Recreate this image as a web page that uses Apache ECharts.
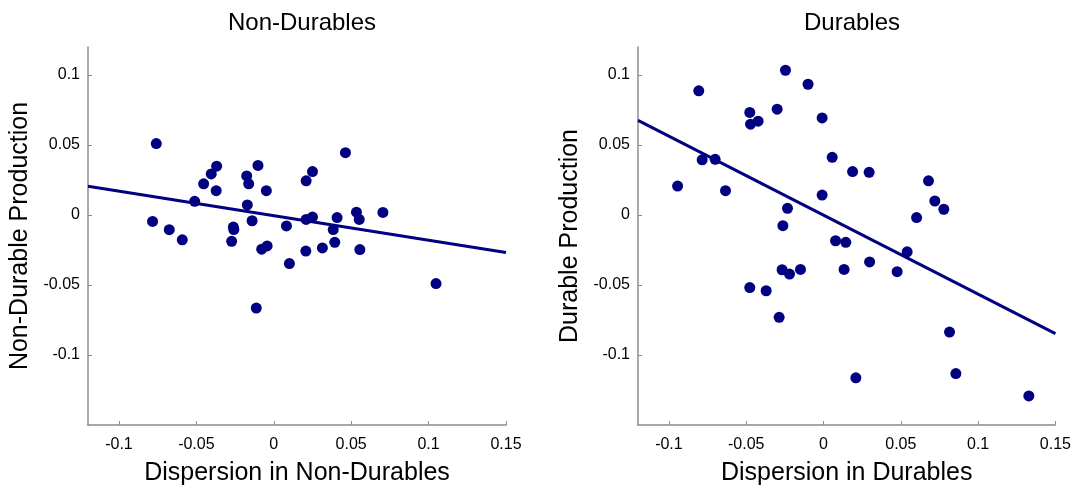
<!DOCTYPE html>
<html>
<head>
<meta charset="utf-8">
<script src="https://cdn.jsdelivr.net/npm/echarts@6/dist/echarts.min.js"></script>
<style>
html,body{margin:0;padding:0;background:#fff;}
#chart{width:1074px;height:491px;}
</style>
</head>
<body>
<div id="chart"></div>
<script>
// ---- Data ----
const nonDurX = [-0.0759,0.0463,-0.0369,-0.0102,-0.0404,0.0250,-0.0453,-0.0175,-0.0162,0.0209,-0.0372,-0.0048,-0.0511,-0.0171,-0.0783,-0.0675,-0.0591,-0.0261,-0.0258,-0.0272,-0.0140,-0.0113,-0.0078,-0.0043,0.0082,0.0101,0.0207,0.0209,0.0250,0.0314,0.0384,0.0394,0.0409,0.0534,0.0552,0.0556,0.0705,0.1048];
const nonDurY = [0.0510,0.0445,0.0349,0.0354,0.0293,0.0310,0.0223,0.0279,0.0223,0.0244,0.0174,0.0174,0.0098,0.0072,-0.0046,-0.0105,-0.0177,-0.0086,-0.0104,-0.0188,-0.0041,-0.0665,-0.0244,-0.0221,-0.0078,-0.0347,-0.0258,-0.0032,-0.0015,-0.0235,-0.0104,-0.0195,-0.0018,0.0020,-0.0032,-0.0247,0.0018,-0.0490];
const durX = [-0.0246,-0.0807,-0.0100,-0.0477,-0.0300,-0.0472,-0.0423,-0.0009,0.0056,-0.0785,-0.0701,0.0188,0.0295,-0.0944,-0.0634,-0.0009,0.0679,0.0720,0.0778,-0.0233,0.0602,-0.0263,0.0078,0.0144,0.0541,0.0298,0.0133,0.0476,-0.0268,-0.0220,-0.0149,-0.0477,-0.0371,-0.0287,0.0815,0.0856,0.0209,0.1328];
const durY = [0.1034,0.0887,0.0934,0.0733,0.0756,0.0649,0.0670,0.0693,0.0412,0.0394,0.0398,0.0310,0.0305,0.0207,0.0174,0.0142,0.0244,0.0100,0.0041,0.0048,-0.0018,-0.0076,-0.0184,-0.0195,-0.0263,-0.0335,-0.0389,-0.0405,-0.0391,-0.0422,-0.0389,-0.0518,-0.0541,-0.0731,-0.0836,-0.1133,-0.1163,-0.1292];
const nonDurFitX = [-0.12, 0.15];
const nonDurFitY = [0.0205, -0.0268];
const durFitX = [-0.12, 0.15];
const durFitY = [0.0676, -0.0847];
const xTicks = [-0.1, -0.05, 0, 0.05, 0.1, 0.15];
const yTicks = [-0.1, -0.05, 0, 0.05, 0.1];
const titles = ['Non-Durables', 'Durables'];
const xNames = ['Dispersion in Non-Durables', 'Dispersion in Durables'];
const yNames = ['Non-Durable Production', 'Durable Production'];

const zip = (a, b) => a.map((v, i) => [v, b[i]]);
const FONT = "'Liberation Sans', Arial, Helvetica, sans-serif";
const NAVY = '#000080';
const AX = '#8c8c8c';

const grids = [
  {left: 88, top: 47, width: 418, height: 385},
  {left: 638, top: 47, width: 418, height: 385}
];

function xAxis(i) {
  return {
    type: 'value', gridIndex: i, min: -0.12, max: 0.15,
    name: xNames[i], nameLocation: 'middle', nameGap: 36,
    nameTextStyle: {fontFamily: FONT, fontSize: 25, color: '#000'},
    axisLine: {show: true, onZero: false, lineStyle: {color: AX, width: 1.5}},
    axisTick: {show: true, inside: true, length: 4, customValues: xTicks, lineStyle: {color: AX}},
    axisLabel: {customValues: xTicks, fontFamily: FONT, fontSize: 16, color: '#000', margin: 12,
      formatter: v => String(v)},
    splitLine: {show: false}
  };
}
function yAxis(i) {
  return {
    type: 'value', gridIndex: i, min: -0.15, max: 0.12,
    name: yNames[i], nameLocation: 'middle', nameGap: 55,
    nameTextStyle: {fontFamily: FONT, fontSize: 25, color: '#000'},
    axisLine: {show: true, onZero: false, lineStyle: {color: AX, width: 1.5}},
    axisTick: {show: true, inside: true, length: 4, customValues: yTicks, lineStyle: {color: AX}},
    axisLabel: {customValues: yTicks, fontFamily: FONT, fontSize: 16, color: '#000', margin: 8,
      formatter: v => String(v)},
    splitLine: {show: false}
  };
}

const chart = echarts.init(document.getElementById('chart'));
chart.setOption({
  animation: false,
  backgroundColor: '#fff',
  title: titles.map((t, i) => ({
    text: t, left: grids[i].left + grids[i].width / 2, textAlign: 'center', top: 6,
    textStyle: {fontFamily: FONT, fontSize: 24, fontWeight: 'normal', color: '#000'}
  })),
  grid: grids,
  xAxis: [xAxis(0), xAxis(1)],
  yAxis: [yAxis(0), yAxis(1)],
  series: [
    {type: 'line', xAxisIndex: 0, yAxisIndex: 0, data: zip(nonDurFitX, nonDurFitY), showSymbol: false,
      lineStyle: {color: NAVY, width: 3}, z: 1},
    {type: 'scatter', xAxisIndex: 0, yAxisIndex: 0, data: zip(nonDurX, nonDurY), symbolSize: 11,
      itemStyle: {color: NAVY, opacity: 1}, z: 2},
    {type: 'line', xAxisIndex: 1, yAxisIndex: 1, data: zip(durFitX, durFitY), showSymbol: false,
      lineStyle: {color: NAVY, width: 3}, z: 1},
    {type: 'scatter', xAxisIndex: 1, yAxisIndex: 1, data: zip(durX, durY), symbolSize: 11,
      itemStyle: {color: NAVY, opacity: 1}, z: 2}
  ]
});
</script>
</body>
</html>
